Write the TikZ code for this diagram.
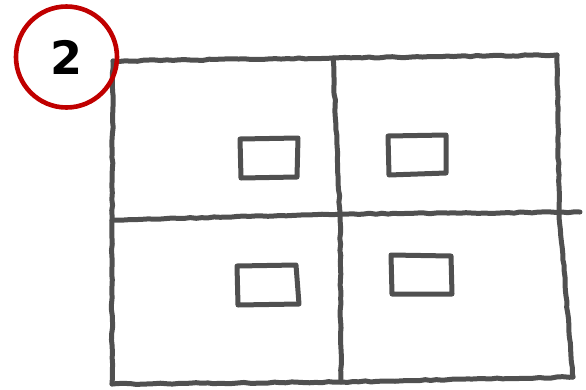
\documentclass[tikz,border=0pt]{standalone}
\usepackage{fontspec}
\newfontfamily\numfont{DejaVu Sans}
\usetikzlibrary{decorations.pathmorphing}
\definecolor{pencil}{HTML}{505050}
\definecolor{badge}{HTML}{C00000}
\tikzset{
  sketch/.style={draw=pencil, line width=5pt, line cap=round, line join=round,
    decorate, decoration={random steps, segment length=6pt, amplitude=0.6pt}},
  smallbox/.style={draw=pencil, line width=5pt, line join=round},
  badgecircle/.style={circle, draw=badge, line width=4.6pt, minimum size=101pt, inner sep=0pt,
    font=\numfont\bfseries\fontsize{46}{46}\selectfont}
}
\begin{document}
\begin{tikzpicture}[x=1pt,y=-1pt]
\useasboundingbox (0,0) rectangle (586,389);
% grid
\coordinate (tl) at (113,61);
\coordinate (tm) at (333,58);
\coordinate (tr) at (557,55);
\coordinate (ml) at (112,220);
\coordinate (mm) at (340,214);
\coordinate (mr) at (559,212);
\coordinate (mx) at (580,212);
\coordinate (bl) at (112,384);
\coordinate (bm) at (341,382);
\coordinate (br) at (573,377);
\draw[sketch] (tl) -- (tm) -- (tr);
\draw[sketch] (bl) -- (bm) -- (br);
\draw[sketch] (tl) -- (ml) -- (bl);
\draw[sketch] (tr) -- (mr) -- (br);
\draw[sketch] (tm) -- (mm) -- (bm);
\draw[sketch] (ml) -- (mm) -- (mx);
% small squares
\draw[smallbox] (240,139) -- (298,138) -- (297,177) -- (241,178) -- cycle;
\draw[smallbox] (388,136) -- (446,135) -- (446,173) -- (389,175) -- cycle;
\draw[smallbox] (237,266) -- (296,265) -- (299,304) -- (238,305) -- cycle;
\draw[smallbox] (391,255) -- (451,256) -- (452,294) -- (392,294) -- cycle;
% badge
\node[badgecircle] (badge) at (66.5,57) {2};
\end{tikzpicture}
\end{document}
